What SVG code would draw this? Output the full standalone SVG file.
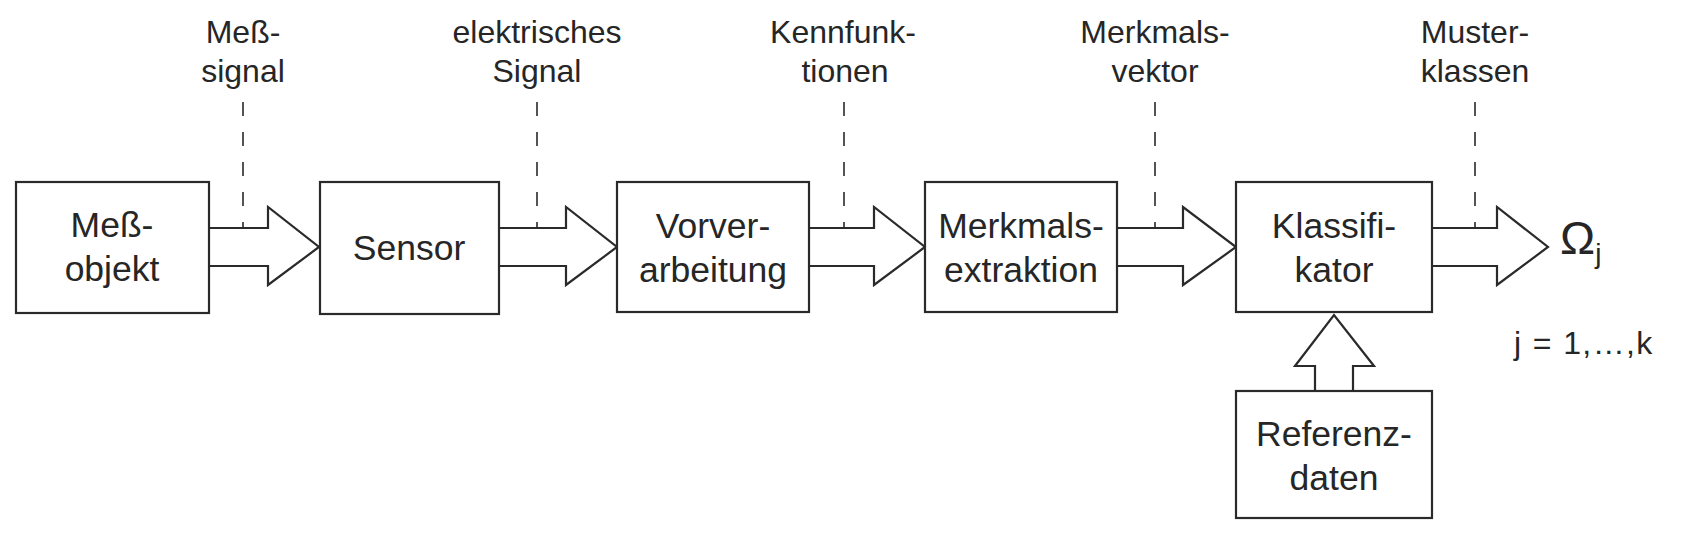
<svg xmlns="http://www.w3.org/2000/svg" width="1688" height="537" viewBox="0 0 1688 537">
<style>
.box{fill:#fff;stroke:#2a2a2a;stroke-width:2.2}
.arr{fill:none;stroke:#2a2a2a;stroke-width:2.2;stroke-linejoin:miter}
.dash{fill:none;stroke:#2a2a2a;stroke-width:1.6;stroke-dasharray:14 16}
.bt{font-family:"Liberation Sans",Arial,Helvetica,sans-serif;font-size:35.5px;fill:#262626;text-anchor:middle}
.lt{font-family:"Liberation Sans",Arial,Helvetica,sans-serif;font-size:32px;fill:#262626;text-anchor:middle}
</style>
<rect width="1688" height="537" fill="#fff"/>
<g id="connectors">
<path class="arr" d="M209,228 H268 V207 L319,247 L268,285 V266 H209"/>
<path class="arr" d="M499,228 H566 V207 L617,247 L566,285 V266 H499"/>
<path class="arr" d="M809,228 H874 V207 L925,247 L874,285 V266 H809"/>
<path class="arr" d="M1117,228 H1183 V207 L1236,247 L1183,285 V266 H1117"/>
<path class="arr" d="M1432,228 H1497 V207 L1548,247 L1497,285 V266 H1432"/>
<path class="arr" d="M1315,391 V366 H1295 L1334,315 L1374,366 H1353 V391"/>
<line class="dash" x1="243" y1="102" x2="243" y2="228"/>
<line class="dash" x1="537" y1="102" x2="537" y2="228"/>
<line class="dash" x1="844" y1="102" x2="844" y2="228"/>
<line class="dash" x1="1155" y1="102" x2="1155" y2="228"/>
<line class="dash" x1="1475" y1="102" x2="1475" y2="228"/>
</g>
<g id="labels">
<text class="lt" x="243" y="43">Meß-</text>
<text class="lt" x="243" y="82">signal</text>
<text class="lt" x="537" y="43">elektrisches</text>
<text class="lt" x="537" y="82">Signal</text>
<text class="lt" x="843" y="43">Kennfunk-</text>
<text class="lt" x="845" y="82">tionen</text>
<text class="lt" x="1155" y="43">Merkmals-</text>
<text class="lt" x="1155" y="82">vektor</text>
<text class="lt" x="1475" y="43">Muster-</text>
<text class="lt" x="1475" y="82">klassen</text>
</g>
<g id="node-messobjekt">
<rect class="box" x="16" y="182" width="193" height="131"/>
<text class="bt" x="112" y="237">Meß-</text>
<text class="bt" x="112" y="281">objekt</text>
</g>
<g id="node-sensor">
<rect class="box" x="320" y="182" width="179" height="132"/>
<text class="bt" x="409" y="260">Sensor</text>
</g>
<g id="node-vorverarbeitung">
<rect class="box" x="617" y="182" width="192" height="130"/>
<text class="bt" x="713" y="238">Vorver-</text>
<text class="bt" x="713" y="282">arbeitung</text>
</g>
<g id="node-merkmalsextraktion">
<rect class="box" x="925" y="182" width="192" height="130"/>
<text class="bt" x="1021" y="238">Merkmals-</text>
<text class="bt" x="1021" y="282">extraktion</text>
</g>
<g id="node-klassifikator">
<rect class="box" x="1236" y="182" width="196" height="130"/>
<text class="bt" x="1334" y="238">Klassifi-</text>
<text class="bt" x="1334" y="282">kator</text>
</g>
<g id="node-referenzdaten">
<rect class="box" x="1236" y="391" width="196" height="127"/>
<text class="bt" x="1334" y="446">Referenz-</text>
<text class="bt" x="1334" y="490">daten</text>
</g>
<g id="output">
<text x="1560" y="254" font-family="Liberation Sans,Arial,sans-serif" font-size="47" fill="#262626">Ω<tspan font-size="28" dy="9">j</tspan></text>
<text x="1514" y="354" font-family="Liberation Sans,Arial,sans-serif" font-size="32" fill="#262626" letter-spacing="1.4">j = 1,…,k</text>
</g>
</svg>
